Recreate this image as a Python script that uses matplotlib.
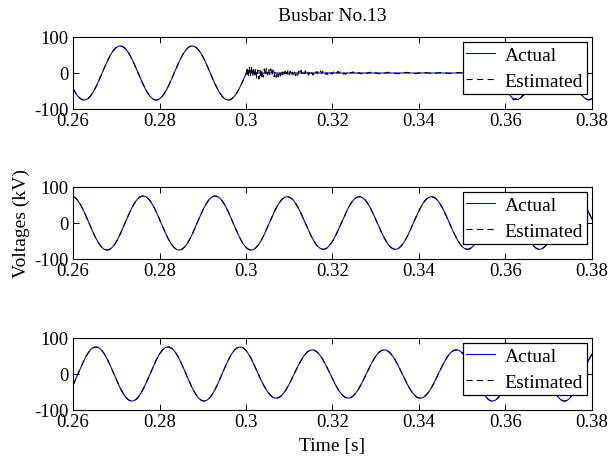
import numpy as np
import matplotlib
matplotlib.use("Agg")
import matplotlib.pyplot as plt

plt.rcParams["font.family"] = ["Liberation Serif", "DejaVu Serif"]
plt.rcParams["axes.unicode_minus"] = False

# ---- data -------------------------------------------------------------
t_start, t_end = 0.26, 0.38
freq = 60.0                                  # system frequency (Hz)
x_ticks = [0.26, 0.28, 0.30, 0.32, 0.34, 0.36, 0.38]
x_tick_labels = ["0.26", "0.28", "0.3", "0.32", "0.34", "0.36", "0.38"]
y_ticks = [-100, 0, 100]

# time of a positive voltage peak for each phase (s)
peak_ref = [0.2709, 0.2762, 0.2653]

# amplitude schedule per phase: breakpoints (s) and peak voltage (kV)
amp_breaks = [
    [0.3001, 0.3584],        # phase collapses at the fault, restored later
    [0.3054],
    [0.3028, 0.3528],
]
amp_values = [
    [75, 0, 74],
    [75, 73],
    [75, 67, 75],
]

# estimator transient after fault inception / clearing on the faulted bus
ring_start = [0.3001, 0.3001, 0.3584]
ring_amp = [16.0, 5.0, 6.0]        # kV
ring_freq = [2000.0, 250.0, 800.0]  # Hz
ring_tau = [0.010, 0.03, 0.006]     # s

# ---- waveforms ----------------------------------------------------------
t = np.linspace(t_start, t_end, 6001)


def phase_voltage(k):
    amp = np.asarray(amp_values[k], dtype=float)[np.searchsorted(amp_breaks[k], t)]
    return amp * np.cos(2 * np.pi * freq * (t - peak_ref[k]))


actual = [phase_voltage(k) for k in range(3)]
estimated = [a.copy() for a in actual]
for t0, a0, f0, tau in zip(ring_start, ring_amp, ring_freq, ring_tau):
    dt = np.clip(t - t0, 0, None)
    estimated[0] += np.where(t > t0, a0 * np.exp(-dt / tau) * np.sin(2 * np.pi * f0 * dt), 0.0)

# ---- figure ---------------------------------------------------------------
fig = plt.figure(figsize=(6.12, 4.60), dpi=100)
left, width, height = 73 / 612, (592 - 73) / 612, 72 / 460
bottoms = [1 - 110 / 460, 1 - 260 / 460, 1 - 411 / 460]

fs = 14
axes = []
for k in range(3):
    ax = fig.add_axes([left, bottoms[k], width, height])
    ax.plot(t, actual[k], color="#0000ff", lw=0.8, label="Actual")
    ax.plot(t, estimated[k], color="black", lw=0.8, linestyle=(0, (5.5, 4)),
            label="Estimated")
    ax.set_xlim(t_start, t_end)
    ax.set_ylim(-100, 100)
    ax.set_xticks(x_ticks)
    ax.set_xticklabels(x_tick_labels)
    ax.set_yticks(y_ticks)
    ax.tick_params(direction="in", top=True, right=True, length=4, width=0.7,
                   labelsize=fs - 0.5, pad=3)
    ax.tick_params(axis="x", pad=2)
    for s in ax.spines.values():
        s.set_linewidth(0.8)
    leg = ax.legend(loc="upper right", fontsize=fs, frameon=True, fancybox=False,
                    framealpha=1, edgecolor="black", borderpad=0.2,
                    labelspacing=0.45, handlelength=1.45, handletextpad=0.5,
                    borderaxespad=0.27)
    leg.get_frame().set_linewidth(0.9)
    axes.append(ax)

axes[0].set_title("Busbar No.13", fontsize=fs, pad=12)
axes[1].set_ylabel("Voltages (kV)", fontsize=fs, labelpad=3)
axes[2].set_xlabel("Time [s]", fontsize=fs, labelpad=5)

fig.savefig("out.png", dpi=100)
